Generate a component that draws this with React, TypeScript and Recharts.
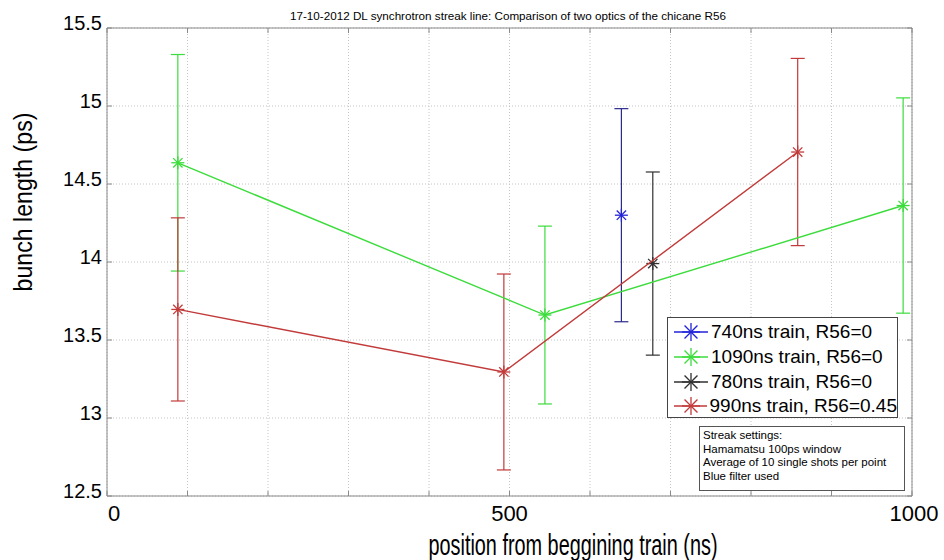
import {
  ComposedChart,
  Scatter,
  XAxis,
  YAxis,
  CartesianGrid,
  ErrorBar,
  ReferenceLine,
  Legend,
  Label,
} from "recharts";

// axis ticks
const xTicks = [0, 100, 200, 300, 400, 500, 600, 700, 800, 900, 1000];
const xLabelled = [0, 500, 1000];
const yTicks = [12.5, 13, 13.5, 14, 14.5, 15, 15.5];

// 740ns train, R56=0
const blueX = [639];
const blueY = [14.3];
const blueErr = [0.683];

// 1090ns train, R56=0
const greenX = [88, 544, 989];
const greenY = [14.636, 13.66, 14.362];
const greenErr = [0.694, 0.57, 0.69];

// 780ns train, R56=0
const blackX = [678];
const blackY = [13.99];
const blackErr = [0.587];

// 990ns train, R56=0.45
const redX = [88, 493, 858];
const redY = [13.696, 13.295, 14.705];
const redErr = [0.587, 0.628, 0.6];

const seriesNames = [
  "740ns train, R56=0",
  "1090ns train, R56=0",
  "780ns train, R56=0",
  "990ns train, R56=0.45",
];

const streakNotes = [
  "Streak settings:",
  "Hamamatsu 100ps window",
  "Average of 10 single shots per point",
  "Blue filter used",
];

const title =
  "17-10-2012 DL synchrotron streak line: Comparison of two optics of the chicane R56";

const FONT = "'Liberation Sans', Arial, sans-serif";
const AXIS = "#8a8a8a";
const BLUE = "#2323d8";
const BLUE_BAR = "#2a2a8e";
const GREEN = "#3cdc3c";
const BLACK = "#303030";
const RED = "#c23a3a";

const PLOT_LEFT = 107;
const PLOT_TOP = 28;
const PLOT_RIGHT = 912;
const PLOT_BOTTOM = 496;

function toPoints(xs: number[], ys: number[], errs: number[]) {
  return xs.map((x, i) => ({ x, y: ys[i], err: errs[i] }));
}

function Star({ cx, cy, color, r = 6.5 }: any) {
  const d = r * 0.72;
  return (
    <g stroke={color} strokeWidth={1.3}>
      <line x1={cx - r} y1={cy} x2={cx + r} y2={cy} />
      <line x1={cx} y1={cy - r} x2={cx} y2={cy + r} />
      <line x1={cx - d} y1={cy - d} x2={cx + d} y2={cy + d} />
      <line x1={cx - d} y1={cy + d} x2={cx + d} y2={cy - d} />
    </g>
  );
}

function XTick({ x, payload }: any) {
  const v = payload.value;
  const shift = v === 0 ? 7 : v === 1000 ? 2 : 0;
  return (
    <g>
      <line x1={x} x2={x} y1={PLOT_BOTTOM} y2={PLOT_BOTTOM - 5} stroke={AXIS} />
      <line x1={x} x2={x} y1={PLOT_TOP} y2={PLOT_TOP + 5} stroke={AXIS} />
      {xLabelled.includes(v) && (
        <text
          x={x + shift}
          y={PLOT_BOTTOM + 25}
          textAnchor="middle"
          fontSize={22}
          fontFamily={FONT}
          fill="#000"
        >
          {v}
        </text>
      )}
    </g>
  );
}

function YTick({ y, payload }: any) {
  return (
    <g>
      <line x1={PLOT_LEFT} x2={PLOT_LEFT + 5} y1={y} y2={y} stroke={AXIS} />
      <line x1={PLOT_RIGHT} x2={PLOT_RIGHT - 5} y1={y} y2={y} stroke={AXIS} />
      <text
        x={PLOT_LEFT - 5}
        y={y + 2}
        textAnchor="end"
        fontSize={20}
        fontFamily={FONT}
        fill="#000"
      >
        {payload.value}
      </text>
    </g>
  );
}

function LegendBox({ payload }: any) {
  // keep the plotting order, not the alphabetical one
  const items = [...(payload ?? [])].sort(
    (a: any, b: any) => seriesNames.indexOf(a.value) - seriesNames.indexOf(b.value)
  );
  return (
    <div
      style={{
        border: "1px solid #444",
        background: "#fff",
        width: 231,
        height: 101,
        boxSizing: "border-box",
        padding: "2px 0 0 6px",
        fontFamily: FONT,
        fontSize: 19,
        color: "#000",
      }}
    >
      {items.map((item: any, i: number) => (
        <div
          key={i}
          style={{ display: "flex", alignItems: "center", height: 24.7 }}
        >
          <svg width={34} height={22}>
            <line x1={0} x2={34} y1={11} y2={11} stroke={item.color} strokeWidth={1.3} />
            <Star cx={17} cy={11} r={9} color={item.color} />
          </svg>
          <span style={{ marginLeft: 3, whiteSpace: "nowrap" }}>{item.value}</span>
        </div>
      ))}
    </div>
  );
}

export default function App() {
  const blue = toPoints(blueX, blueY, blueErr);
  const green = toPoints(greenX, greenY, greenErr);
  const black = toPoints(blackX, blackY, blackErr);
  const red = toPoints(redX, redY, redErr);

  return (
    <div
      style={{
        position: "absolute",
        left: 0,
        top: 0,
        width: 944,
        height: 560,
        background: "#fff",
      }}
    >
      <ComposedChart
        width={944}
        height={560}
        margin={{ top: PLOT_TOP, right: 944 - PLOT_RIGHT, bottom: 24, left: PLOT_LEFT - 60 }}
      >
        <CartesianGrid stroke="#c4c4c4" strokeDasharray="1 2" />
        <XAxis
          dataKey="x"
          type="number"
          domain={[0, 1000]}
          ticks={xTicks}
          allowDataOverflow
          height={40}
          axisLine={{ stroke: AXIS }}
          tickLine={false}
          tick={<XTick />}
          interval={0}
        >
          <Label
            content={() => (
              <g>
                <text
                  x={573}
                  y={555}
                  textAnchor="middle"
                  fontSize={29}
                  fontFamily={FONT}
                  textLength={289}
                  lengthAdjust="spacingAndGlyphs"
                  fill="#000"
                >
                  position from beggining train (ns)
                </text>
                <text
                  x={508}
                  y={20}
                  textAnchor="middle"
                  fontSize={11}
                  fontFamily={FONT}
                  textLength={436}
                  lengthAdjust="spacingAndGlyphs"
                  fill="#000"
                >
                  {title}
                </text>
              </g>
            )}
          />
        </XAxis>
        <YAxis
          dataKey="y"
          type="number"
          domain={[12.5, 15.5]}
          ticks={yTicks}
          allowDataOverflow
          width={60}
          axisLine={{ stroke: AXIS }}
          tickLine={false}
          tick={<YTick />}
          interval={0}
        >
          <Label
            content={() => (
              <text
                x={32}
                y={202}
                transform="rotate(-90, 32, 202)"
                textAnchor="middle"
                fontSize={26}
                fontFamily={FONT}
                textLength={179}
                lengthAdjust="spacingAndGlyphs"
                fill="#000"
              >
                bunch length (ps)
              </text>
            )}
          />
        </YAxis>
        <ReferenceLine y={15.5} stroke={AXIS} ifOverflow="visible" />
        <ReferenceLine x={1000} stroke={AXIS} ifOverflow="visible" />

        <Scatter
          name={seriesNames[0]}
          data={blue}
          fill={BLUE}
          stroke={BLUE}
          isAnimationActive={false}
          shape={(p: any) => <Star cx={p.cx} cy={p.cy} color={BLUE} />}
        >
          <ErrorBar dataKey="err" direction="y" width={7} stroke={BLUE_BAR} strokeWidth={1.2} />
        </Scatter>
        <Scatter
          name={seriesNames[1]}
          data={green}
          fill={GREEN}
          stroke={GREEN}
          line={{ stroke: GREEN, strokeWidth: 1.4 }}
          lineType="joint"
          isAnimationActive={false}
          shape={(p: any) => <Star cx={p.cx} cy={p.cy} color={GREEN} />}
        >
          <ErrorBar dataKey="err" direction="y" width={7} stroke={GREEN} strokeWidth={1.2} />
        </Scatter>
        <Scatter
          name={seriesNames[2]}
          data={black}
          fill={BLACK}
          stroke={BLACK}
          isAnimationActive={false}
          shape={(p: any) => <Star cx={p.cx} cy={p.cy} color={BLACK} />}
        >
          <ErrorBar dataKey="err" direction="y" width={7} stroke={BLACK} strokeWidth={1.2} />
        </Scatter>
        <Scatter
          name={seriesNames[3]}
          data={red}
          fill={RED}
          stroke={RED}
          line={{ stroke: RED, strokeWidth: 1.4 }}
          lineType="joint"
          isAnimationActive={false}
          shape={(p: any) => <Star cx={p.cx} cy={p.cy} color={RED} />}
        >
          <ErrorBar dataKey="err" direction="y" width={7} stroke={RED} strokeWidth={1.2} />
        </Scatter>

        <Legend
          layout="vertical"
          align="center"
          verticalAlign="middle"
          content={<LegendBox />}
          wrapperStyle={{ position: "absolute", left: 667, top: 317, width: 231, height: 101 }}
        />
      </ComposedChart>

      <div
        style={{
          position: "absolute",
          left: 699,
          top: 426,
          width: 206,
          height: 65,
          boxSizing: "border-box",
          border: "1px solid #555",
          background: "#fff",
          padding: "2px 0 0 3px",
          fontFamily: FONT,
          fontSize: 11.5,
          lineHeight: "13.5px",
          color: "#000",
          whiteSpace: "nowrap",
        }}
      >
        {streakNotes.map((line) => (
          <div key={line}>{line}</div>
        ))}
      </div>
    </div>
  );
}
